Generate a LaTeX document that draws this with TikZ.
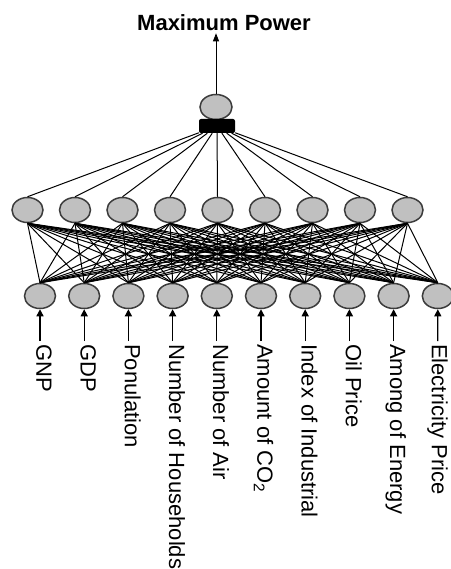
\documentclass[tikz,border=0pt]{standalone}
\usepackage{fontspec}
\setmainfont{Liberation Sans}
\usetikzlibrary{shapes.geometric,arrows.meta}
\definecolor{nodefill}{RGB}{192,192,192}
\definecolor{nodeline}{RGB}{60,60,60}
\begin{document}
\begin{tikzpicture}[x=1pt,y=-1pt,
  neuron/.style={ellipse,draw=nodeline,fill=nodefill,line width=1.5pt,minimum width=31pt,minimum height=25pt,inner sep=0pt},
  link/.style={line width=1pt,black},
  inarrow/.style={line width=1.3pt,-{Triangle[width=7pt,length=7pt]}},
  lbl/.style={rotate=-90,anchor=west,inner sep=0pt,text height=0.72em,text depth=0pt,font=\fontsize{22}{24}\selectfont}]
\useasboundingbox (0,0) rectangle (450,569);
% title
\node[font=\bfseries\fontsize{22}{24}\selectfont,inner sep=2pt] (title) at (224,23) {Maximum Power};
% output
\node[neuron,minimum width=32pt,minimum height=25pt] (out) at (216,107) {};
\node[fill=black,minimum width=36pt,minimum height=14pt,inner sep=0pt,rounded corners=2pt] (bar) at (217,126) {};
\draw[line width=1pt,-{Triangle[width=6pt,length=8pt]}] (out.north) -- (out.north |- title.south);
% hidden layer
\foreach \k in {1,...,9} \node[neuron] (h\k) at ({27.5+47.5*(\k-1)},210) {};
% input layer
\foreach \k in {1,...,10} \node[neuron] (i\k) at ({40+44.2*(\k-1)},296) {};
% connections
\foreach \a in {1,...,9} \draw[link] (h\a.north) -- (bar);
\foreach \a in {1,...,9} \foreach \b in {1,...,10} \draw[link] (h\a.south) -- (i\b.north);
% input arrows and labels
\foreach \k/\t in {1/GNP,2/GDP,3/Ponulation,4/Number of Households,5/Number of Air,6/{Amount of CO\textsubscript{2}},7/Index of Industrial,8/Oil Price,9/Among of Energy}{
  \coordinate (s\k) at ({40+44.2*(\k-1)},341);
  \draw[inarrow] (s\k) -- (i\k.south);
  \node[lbl] (l\k) at ({40+44.2*(\k-1)},344) {\t};
}
\coordinate (s10) at (437.8,341);
\draw[inarrow] (s10) -- (i10.south);
\node[lbl] (l10) at (435.5,344) {Electricity Price};
\end{tikzpicture}
\end{document}
